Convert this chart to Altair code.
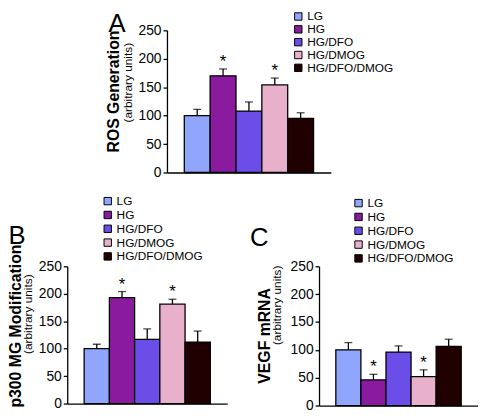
import altair as alt
import pandas as pd

FONT = "Liberation Sans"

groups = ["LG", "HG", "HG/DFO", "HG/DMOG", "HG/DFO/DMOG"]
colors = ["#8fa6fc", "#8a1a9e", "#6b4de8", "#e9b0cc", "#200000"]
signif = ["", "*", "", "*", ""]
y_ticks = [0, 50, 100, 150, 200, 250]

ros_mean = [100, 170, 108, 154, 95]
ros_upper = [111, 182, 124, 166, 105]

p300_mean = [100, 193, 117, 181, 112]
p300_upper = [108, 204, 136, 190, 132]

vegf_mean = [100, 46, 96, 52, 106]
vegf_upper = [113, 56, 107, 64, 119]


def panel(mean, upper, letter, ytitle, w, h, letter_x, letter_y,
          sub_x, sub_y, legend_x, legend_y, row_pad, title_offset, title_dx):
    df = pd.DataFrame({"group": groups, "mean": mean, "upper": upper, "sig": signif})
    xscale = alt.Scale(paddingInner=0, paddingOuter=0.67)
    xaxis = alt.Axis(labels=False, ticks=False, domainColor="black", domainWidth=1.3,
                     title="(arbitrary units)", titleAngle=270, titleX=sub_x,
                     titleY=sub_y, titleAlign="center", titleBaseline="middle",
                     titleFont=FONT, titleFontSize=12, titleFontWeight="normal",
                     titleColor="black")
    yscale = alt.Scale(domain=[0, 250], nice=False, zero=True)
    yaxis = alt.Axis(values=y_ticks, grid=False, tickSize=4, tickColor="black",
                     tickWidth=1.3, domainColor="black", domainWidth=1.3,
                     labelFont=FONT, labelFontSize=14, labelColor="black",
                     labelPadding=2, labelOverlap=False, title=letter, titleAngle=0,
                     titleFont=FONT, titleFontSize=26, titleFontWeight="normal",
                     titleColor="black", titleX=letter_x, titleY=letter_y,
                     titleAlign="center", titleBaseline="top")

    def X():
        return alt.X("group:N", sort=groups, scale=xscale, axis=xaxis)

    base = alt.Chart(df)
    bars = base.mark_bar(stroke="black", strokeWidth=1.3).encode(
        x=X(),
        y=alt.Y("mean:Q", scale=yscale, axis=yaxis),
        color=alt.Color(
            "group:N", sort=groups,
            scale=alt.Scale(domain=groups, range=colors),
            legend=alt.Legend(orient="none", legendX=legend_x, legendY=legend_y,
                              title=None, symbolType="square", symbolSize=56,
                              symbolStrokeColor="black", symbolStrokeWidth=1,
                              labelFont=FONT, labelFontSize=12, labelColor="black",
                              rowPadding=row_pad, labelOffset=3, padding=0),
        ),
    )
    stem = base.mark_rule(color="black", strokeWidth=1.3).encode(
        x=X(), y=alt.Y("mean:Q", scale=yscale, axis=yaxis), y2="upper:Q")
    cap = base.mark_tick(color="black", thickness=1.3, size=8).encode(
        x=X(), y=alt.Y("upper:Q", scale=yscale, axis=yaxis))
    star = base.mark_text(font=FONT, fontSize=17, baseline="alphabetic", dy=-2,
                          color="black").encode(
        x=X(), y=alt.Y("upper:Q", scale=yscale, axis=yaxis), text="sig:N")
    return alt.layer(bars, stem, cap, star).properties(
        width=w, height=h,
        title=alt.TitleParams(text=ytitle, orient="left", anchor="middle", frame="group",
                              font=FONT, fontSize=16, fontWeight="bold", color="black",
                              offset=title_offset, dx=title_dx),
    )


panel_a = panel(ros_mean, ros_upper, "A", "ROS Generation", 166, 144,
                -51, -20, -40, -91.5, 127, -20, 1, -13.7, 10)
panel_b = panel(p300_mean, p300_upper, "B", "p300 MG Modification", 162, 139,
                -51.3, -44, -40, -91, 35, -72, 2, -16, 9)
panel_c = panel(vegf_mean, vegf_upper, "C", "VEGF mRNA", 161, 141,
                -61, -42, -43, -102, 34, -70, 2, -23.4, 0)

spacer = alt.Chart(pd.DataFrame({"v": [0]})).mark_point(opacity=0).encode(
    x=alt.value(4), y=alt.value(72)).properties(width=8, height=144)

top_row = alt.hconcat(spacer, panel_a, spacing=93, bounds="flush").resolve_scale(
    x="independent", y="independent", color="independent")
bottom_row = alt.hconcat(panel_b, panel_c, spacing=93, bounds="flush").resolve_scale(
    x="independent", y="independent", color="independent")

# nested concat groups have no own height under flush bounds, so the row gap
# includes the first row's plot height
chart = alt.vconcat(top_row, bottom_row, spacing=239, bounds="flush").resolve_scale(
    x="independent", y="independent", color="independent"
).properties(padding=0).configure_view(stroke=None)

chart.save("out.html", embed_options={"renderer": "svg", "actions": False})
